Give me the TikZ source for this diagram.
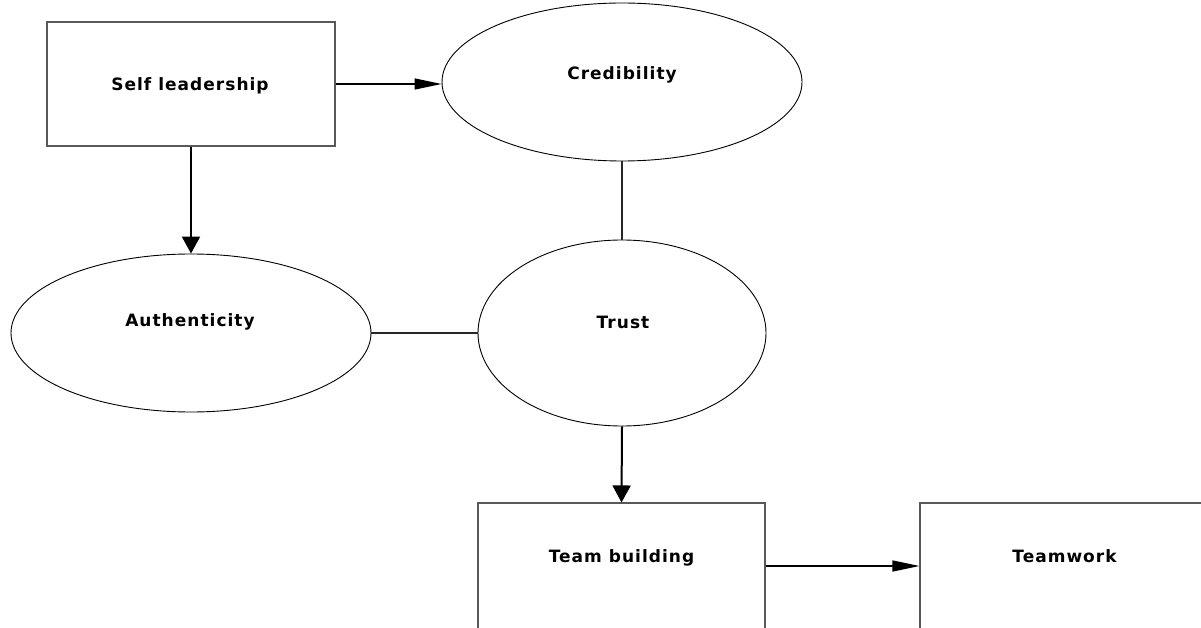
\documentclass[tikz,border=0pt]{standalone}
\usepackage{fontspec}
\newfontfamily\lblfont{DejaVu Sans}[LetterSpace=6]
\usetikzlibrary{shapes.geometric,arrows.meta}
\begin{document}
\begin{tikzpicture}[x=1pt,y=-1pt,
  boxnode/.style={draw=black!65,line width=1.1pt,rectangle,inner sep=0pt},
  ellnode/.style={draw=black,line width=0.9pt,ellipse,inner sep=0pt},
  txt/.style={anchor=base,inner sep=0pt,font=\lblfont\bfseries\fontsize{17}{20}\selectfont},
  harrow/.style={line width=1.4pt,-{Triangle[length=27pt,width=11pt]}},
  varrow/.style={line width=2pt,-{Triangle[length=17pt,width=18pt]}},
  plain/.style={line width=1.6pt,draw=black!85}]
\useasboundingbox (0,0) rectangle (1201,628);
\clip (0,0) rectangle (1201,628);
\node[boxnode,minimum width=288pt,minimum height=124pt] (sl) at (191,84) {};
\node[ellnode,minimum width=360pt,minimum height=158pt] (cred) at (622,82) {};
\node[ellnode,minimum width=360pt,minimum height=158pt] (auth) at (191,333) {};
\node[ellnode,minimum width=288pt,minimum height=186pt] (trust) at (622,333) {};
\node[boxnode,minimum width=287pt,minimum height=177pt] (tb) at (621.5,591.5) {};
\node[boxnode,minimum width=320pt,minimum height=177pt] (tw) at (1080,591.5) {};
\node[txt] (slt) at (190,90.5) {Self leadership};
\node[txt] (credt) at (622,80) {Credibility};
\node[txt] (autht) at (190,326) {Authenticity};
\node[txt] (trustt) at (623,328) {Trust};
\node[txt] (tbt) at (621.5,562) {Team building};
\node[txt] (twt) at (1064.5,562) {Teamwork};
\coordinate (m) at (0,566);
\draw[harrow] (sl.east) -- (sl.east -| cred.west);
\draw[varrow] (sl.south) -- (auth.north);
\draw[plain] (cred.south) -- (trust.north);
\draw[plain] (auth.east) -- (trust.west);
\draw[varrow] (trust.south) -- (tb.north);
\draw[harrow] (tb.east |- m) -- (tw.west |- m);
\end{tikzpicture}
\end{document}
